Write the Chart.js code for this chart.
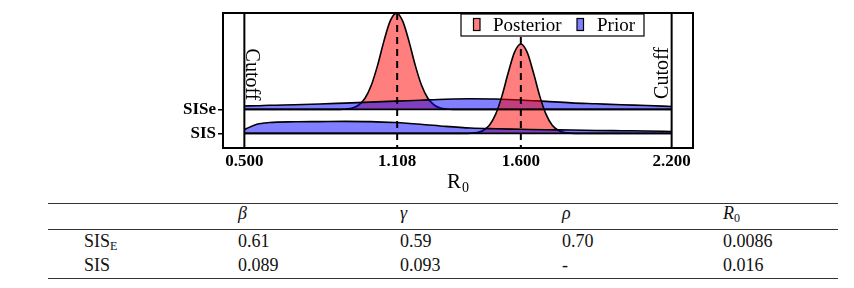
<!DOCTYPE html>
<html>
<head>
<meta charset="utf-8">
<script src="https://cdn.jsdelivr.net/npm/chart.js@4.4.0/dist/chart.umd.min.js"></script>
<style>
  html, body { margin: 0; padding: 0; background: #fff; }
  body { width: 854px; height: 288px; position: relative; overflow: hidden; font-family: "Liberation Serif", serif; color: #111; }
  #wrap { position: absolute; left: 0; top: 0; width: 854px; height: 200px; }
  .rule { position: absolute; left: 48px; width: 790px; height: 1px; background: #333; }
  .cell { position: absolute; font-size: 18px; line-height: 18px; white-space: nowrap; }
  .cell sub { font-size: 12px; vertical-align: -3px; line-height: 0; }
</style>
</head>
<body>
<div id="wrap"><canvas id="ridge" width="854" height="200"></canvas></div>
<div id="table"></div>
<script>
// ridge rows, bottom to top
const rowNames = ['SIS', 'SISe'];
const rowBase = [0, 1];

const xTicks = [0.5, 1.108, 1.6, 2.2];
const trueValues = [1.108, 1.6];
const cutoffs = [0.5, 2.2];

// prior densities, heights in row units
const priorX    = [0.5, 0.55, 0.6, 0.7, 0.8, 0.9, 1.0, 1.1, 1.2, 1.3, 1.4, 1.5, 1.6, 1.7, 1.8, 1.9, 2.0, 2.1, 2.2];
const priorSIS  = [0.16, 0.38, 0.45, 0.48, 0.49, 0.50, 0.49, 0.45, 0.38, 0.29, 0.22, 0.19, 0.17, 0.15, 0.14, 0.12, 0.11, 0.10, 0.08];
const priorSISe = [0.14, 0.15, 0.17, 0.19, 0.22, 0.26, 0.30, 0.34, 0.38, 0.42, 0.44, 0.43, 0.39, 0.33, 0.27, 0.23, 0.19, 0.16, 0.12];

// posterior densities
const postXSIS  = [0.5, 1.375, 1.4, 1.425, 1.45, 1.475, 1.5, 1.525, 1.55, 1.575, 1.6, 1.625, 1.65, 1.675, 1.7, 1.725, 1.75, 1.775, 1.8, 1.825, 2.2];
const postSIS   = [0, 0, 0.008, 0.034, 0.12, 0.34, 0.80, 1.56, 2.53, 3.38, 3.72, 3.38, 2.53, 1.56, 0.80, 0.34, 0.12, 0.034, 0.008, 0, 0];
const postXSISe = [0.5, 0.88, 0.905, 0.93, 0.955, 0.98, 1.005, 1.03, 1.055, 1.08, 1.105, 1.13, 1.155, 1.18, 1.205, 1.23, 1.255, 1.28, 1.305, 1.33, 2.2];
const postSISe  = [0, 0, 0.015, 0.057, 0.18, 0.46, 1.00, 1.83, 2.83, 3.67, 4.0, 3.67, 2.83, 1.83, 1.00, 0.46, 0.18, 0.057, 0.015, 0, 0];

// table
const tableHead = ['β', 'γ', 'ρ', 'R'];
const tableModels = ['SIS', 'SIS'];
const tableValues = [
  ['0.61', '0.59', '0.70', '0.0086'],
  ['0.089', '0.093', '-', '0.016']
];

const postColor = 'rgba(255, 0, 0, 0.5)';
const priorColor = 'rgba(0, 0, 255, 0.5)';
const serif = '"Liberation Serif", "Times New Roman", serif';

function pts(xs, hs, base) {
  return xs.map((x, i) => ({ x: x, y: base + hs[i] }));
}

function ridge(label, xs, hs, row, color) {
  return {
    label: label,
    data: pts(xs, hs, rowBase[row]),
    borderColor: '#000',
    borderWidth: 1.6,
    backgroundColor: color,
    fill: { value: rowBase[row] },
    pointRadius: 0,
    cubicInterpolationMode: 'monotone'
  };
}

function line(ctx, x1, y1, x2, y2) {
  ctx.beginPath();
  ctx.moveTo(x1, y1);
  ctx.lineTo(x2, y2);
  ctx.stroke();
}

const decor = {
  id: 'decor',
  afterDatasetsDraw(chart) {
    const ctx = chart.ctx, a = chart.chartArea;
    const x = chart.scales.x, y = chart.scales.y;
    ctx.save();
    ctx.strokeStyle = '#000';
    ctx.lineWidth = 1.6;
    rowBase.forEach(b => {
      line(ctx, x.getPixelForValue(cutoffs[0]), y.getPixelForValue(b), x.getPixelForValue(cutoffs[1]), y.getPixelForValue(b));
    });
    ctx.lineWidth = 2;
    cutoffs.forEach(c => {
      const px = x.getPixelForValue(c);
      line(ctx, px, a.top, px, a.bottom);
    });
    ctx.setLineDash([7, 5]);
    trueValues.forEach(v => {
      const px = x.getPixelForValue(v);
      line(ctx, px, a.top, px, a.bottom);
    });
    ctx.setLineDash([]);
    ctx.strokeRect(a.left, a.top, a.right - a.left, a.bottom - a.top);

    // cutoff labels
    ctx.fillStyle = '#000';
    ctx.font = '20px ' + serif;
    ctx.textAlign = 'center';
    ctx.textBaseline = 'alphabetic';
    ctx.save();
    ctx.translate(x.getPixelForValue(cutoffs[0]) + 2, 74.5);
    ctx.rotate(Math.PI / 2);
    ctx.fillText('Cutoff', 0, 0);
    ctx.restore();
    ctx.save();
    ctx.translate(x.getPixelForValue(cutoffs[1]) - 4, 73);
    ctx.rotate(-Math.PI / 2);
    ctx.fillText('Cutoff', 0, 0);
    ctx.restore();
    ctx.restore();
  },
  afterDraw(chart) {
    const ctx = chart.ctx, a = chart.chartArea;
    ctx.save();
    // legend
    ctx.fillStyle = '#fff';
    ctx.fillRect(461, 14, 183, 22);
    ctx.strokeStyle = '#000';
    ctx.lineWidth = 1.2;
    ctx.strokeRect(461, 14, 183, 22);
    const items = [['Posterior', postColor, 473.5, 493], ['Prior', priorColor, 577, 597]];
    ctx.font = '19px ' + serif;
    ctx.textAlign = 'left';
    ctx.textBaseline = 'alphabetic';
    items.forEach(it => {
      ctx.fillStyle = it[1];
      ctx.fillRect(it[2], 18.5, 6.5, 12);
      ctx.strokeRect(it[2], 18.5, 6.5, 12);
      ctx.fillStyle = '#000';
      ctx.fillText(it[0], it[3], 30.5);
    });
    // axis title R0
    const cx = (a.left + a.right) / 2;
    ctx.font = '21px ' + serif;
    ctx.fillText('R', cx - 11, 188);
    ctx.font = '14px ' + serif;
    ctx.fillText('0', cx + 4, 192);
    ctx.restore();
  }
};

new Chart(document.getElementById('ridge'), {
  type: 'line',
  data: {
    datasets: [
      ridge('Prior SIS', priorX, priorSIS, 0, priorColor),
      ridge('Posterior SIS', postXSIS, postSIS, 0, postColor),
      ridge('Prior SISe', priorX, priorSISe, 1, priorColor),
      ridge('Posterior SISe', postXSISe, postSISe, 1, postColor)
    ]
  },
  options: {
    responsive: false,
    animation: false,
    devicePixelRatio: 1,
    layout: { padding: { left: 0, top: 13, right: 161, bottom: 0 } },
    plugins: { legend: { display: false }, tooltip: { enabled: false } },
    scales: {
      x: {
        type: 'linear',
        min: 0.415,
        max: 2.285,
        afterBuildTicks: s => { s.ticks = xTicks.map(v => ({ value: v })); },
        afterFit: s => { s.height = 52; },
        grid: { display: false },
        border: { display: false },
        ticks: {
          padding: -5,
          maxRotation: 0,
          autoSkip: false,
          color: '#000',
          font: { family: serif, size: 17, weight: 'bold' },
          callback: v => Number(v).toFixed(3)
        }
      },
      y: {
        min: -0.61,
        max: 5.01,
        afterBuildTicks: s => { s.ticks = rowBase.map(v => ({ value: v })); },
        afterFit: s => { s.width = 223; },
        grid: { display: true, drawOnChartArea: false, drawTicks: true, tickLength: 5, color: '#000', lineWidth: 1.5 },
        border: { display: false },
        ticks: {
          padding: 2,
          color: '#000',
          font: { family: serif, size: 17, weight: 'bold' },
          callback: v => rowNames[rowBase.indexOf(v)]
        }
      }
    }
  },
  plugins: [decor]
});

// table below the chart
const table = document.getElementById('table');
const colX = [84, 238, 400, 562, 723];
const rowY = [213, 241, 265];
[202.5, 228.5, 278].forEach(t => {
  const r = document.createElement('div');
  r.className = 'rule';
  r.style.top = t + 'px';
  table.appendChild(r);
});
function cell(html, x, cy) {
  const d = document.createElement('div');
  d.className = 'cell';
  d.style.left = x + 'px';
  d.style.top = (cy - 9) + 'px';
  d.innerHTML = html;
  table.appendChild(d);
}
tableHead.forEach((h, i) => {
  cell('<i>' + h + '</i>' + (h === 'R' ? '<sub>0</sub>' : ''), colX[i + 1], rowY[0]);
});
tableModels.forEach((m, r) => {
  cell(m + (r === 0 ? '<sub>E</sub>' : ''), colX[0], rowY[r + 1]);
  tableValues[r].forEach((v, i) => cell(v, colX[i + 1], rowY[r + 1]));
});
</script>
</body>
</html>
